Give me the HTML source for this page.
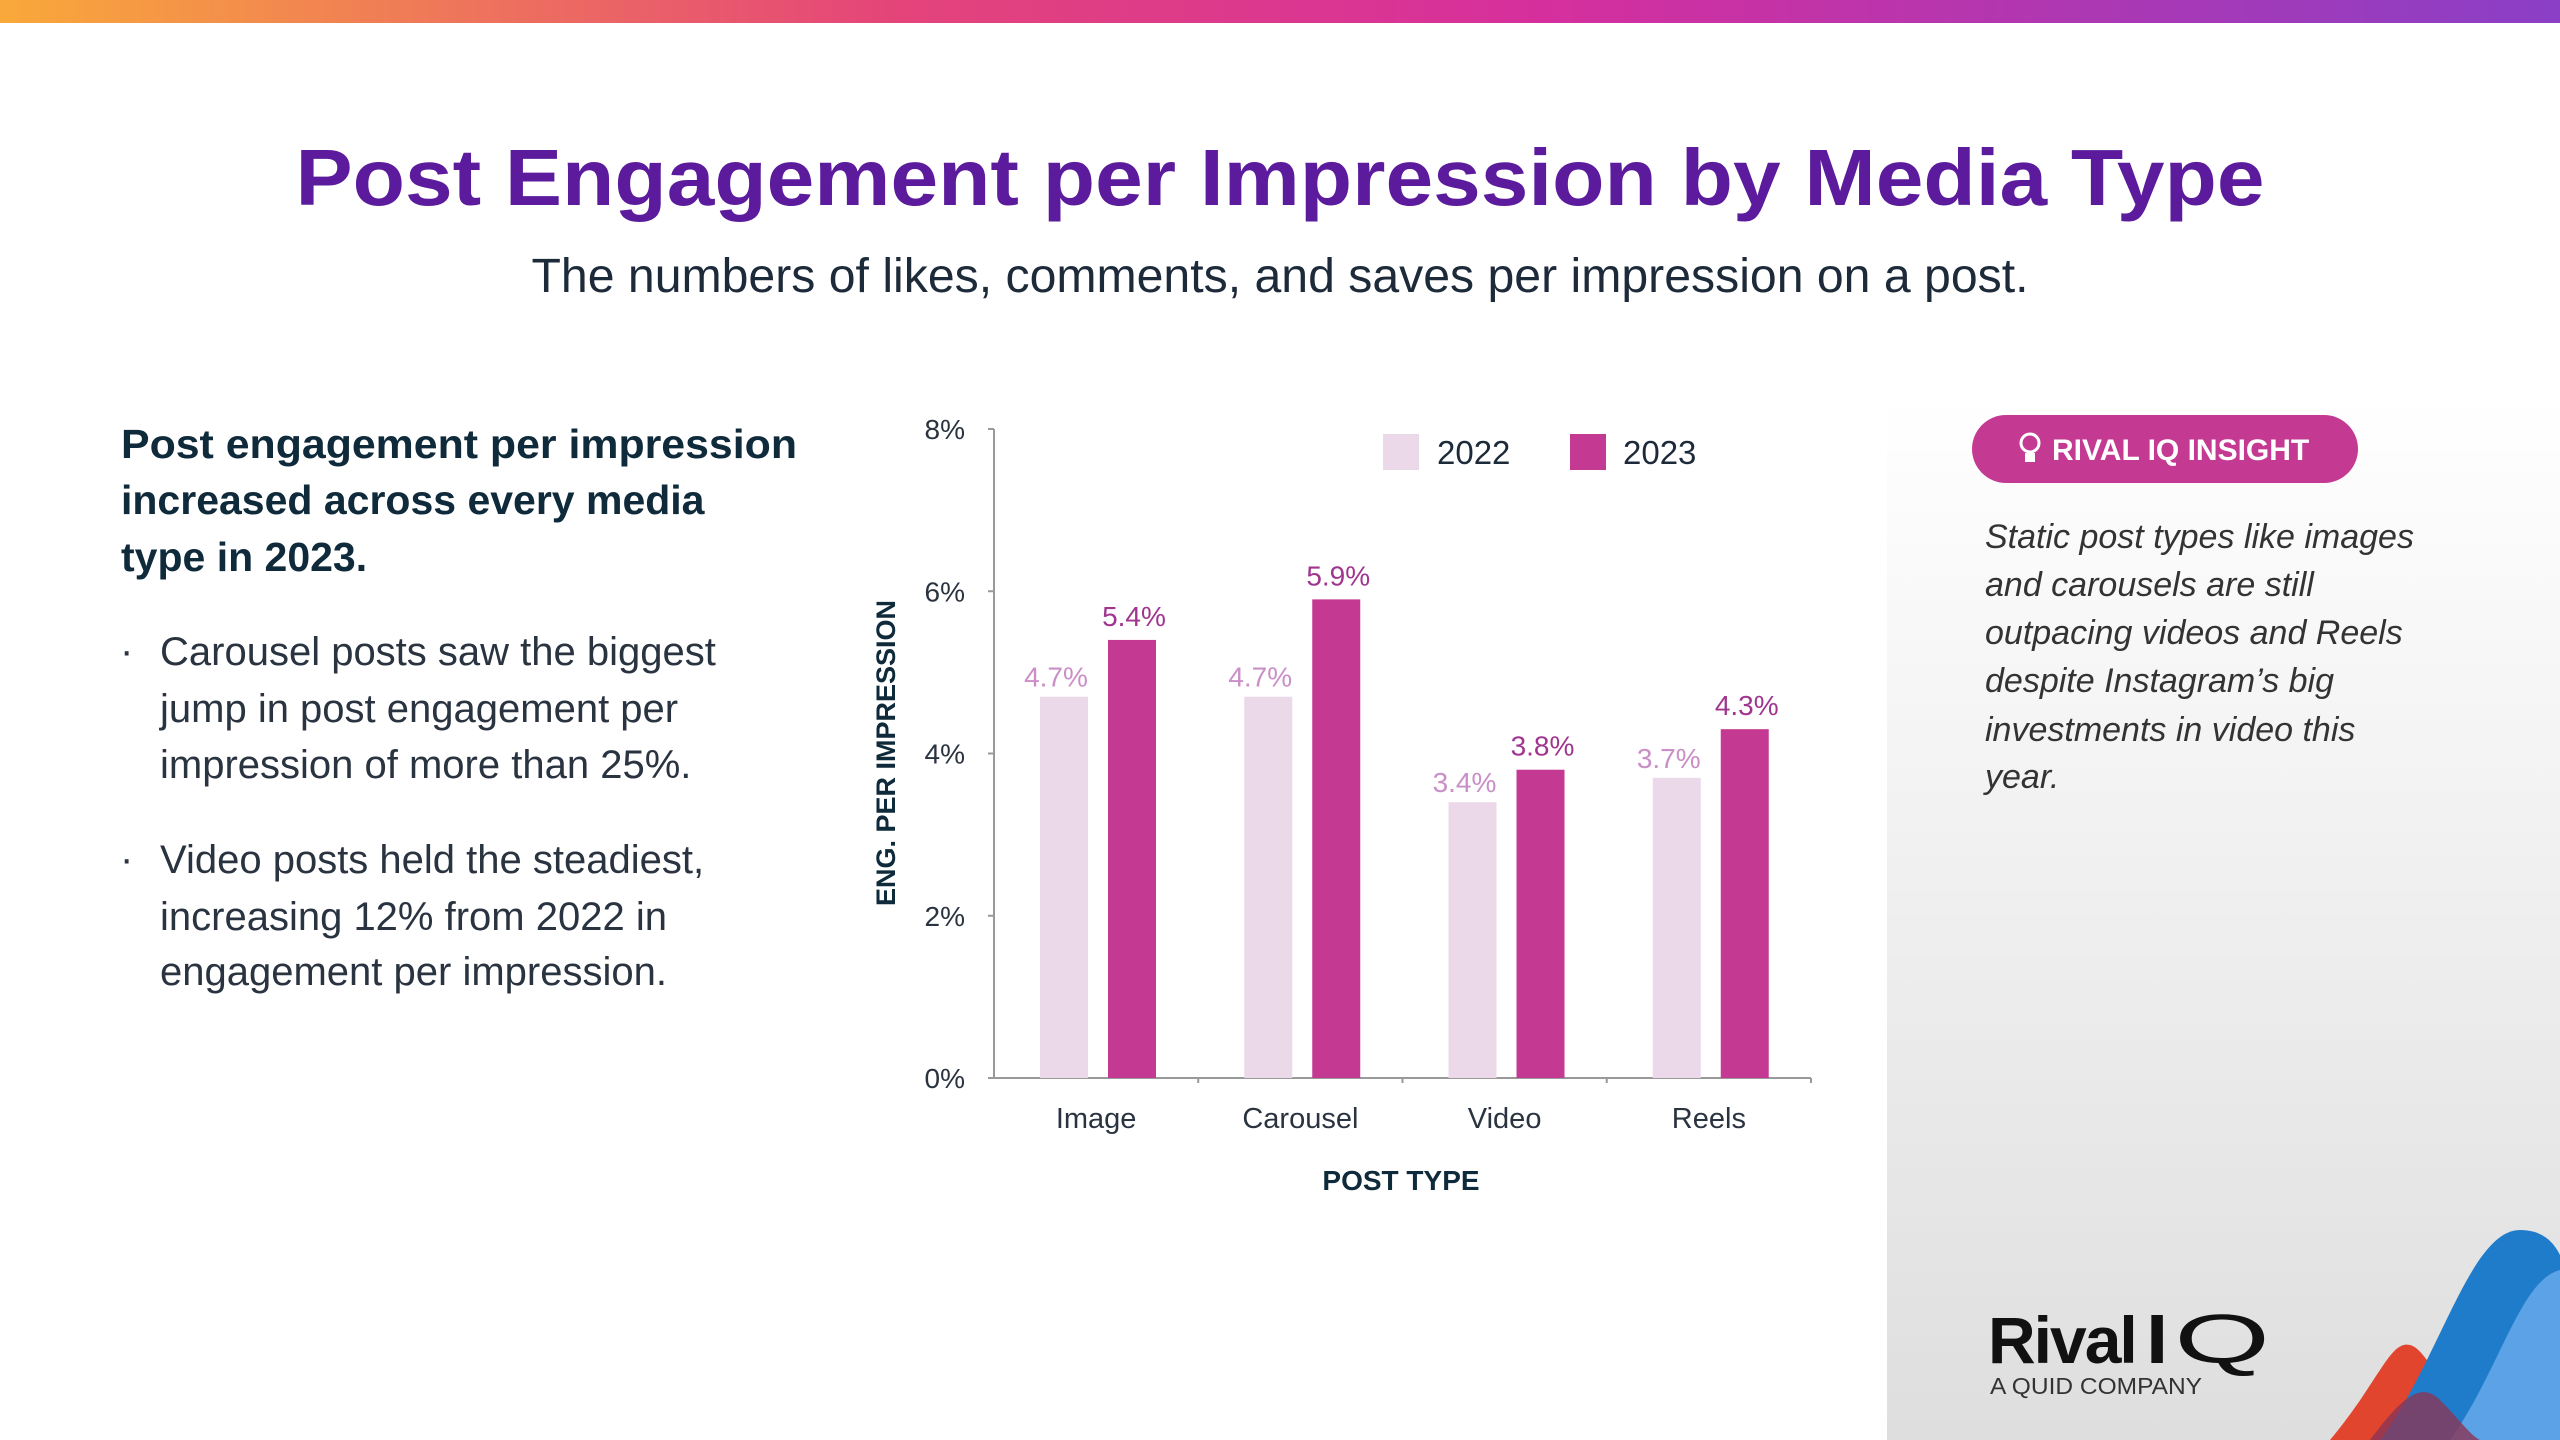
<!DOCTYPE html>
<html><head><meta charset="utf-8">
<style>
html,body{margin:0;padding:0;background:#fff;}
svg{display:block;font-family:"Liberation Sans",sans-serif;}
</style></head>
<body>
<svg id="page" width="2560" height="1440" viewBox="0 0 2560 1440" xmlns="http://www.w3.org/2000/svg">
<defs>
<linearGradient id="topg" x1="0" x2="1" y1="0" y2="0">
<stop offset="0" stop-color="#f9a93a"/><stop offset="0.35" stop-color="#e4447a"/><stop offset="0.6" stop-color="#d62f9d"/><stop offset="1" stop-color="#8a3fc6"/>
</linearGradient>
<linearGradient id="panelg" x1="0" x2="0" y1="0" y2="1">
<stop offset="0" stop-color="#ffffff"/><stop offset="1" stop-color="#dedede"/>
</linearGradient>
</defs>
<rect x="0" y="0" width="2560" height="23" fill="url(#topg)"/>
<rect x="1887" y="400" width="673" height="1040" fill="url(#panelg)"/>

<text x="1280" y="205" text-anchor="middle" font-size="80" font-weight="bold" fill="#5b1b9c" textLength="1969" lengthAdjust="spacingAndGlyphs">Post Engagement per Impression by Media Type</text>
<text x="1280" y="292" text-anchor="middle" font-size="48" fill="#1d2a3a" textLength="1497" lengthAdjust="spacingAndGlyphs">The numbers of likes, comments, and saves per impression on a post.</text>

<g fill="#0f2a3a">
<text x="121" y="458" font-size="41" font-weight="bold" textLength="676" lengthAdjust="spacingAndGlyphs">Post engagement per impression</text>
<text x="121" y="514" font-size="41" font-weight="bold">increased across every media</text>
<text x="121" y="571" font-size="41" font-weight="bold">type in 2023.</text>
</g>
<g fill="#2a3340" font-size="40">
<text x="120" y="664">·</text>
<text x="160" y="665">Carousel posts saw the biggest</text>
<text x="160" y="722">jump in post engagement per</text>
<text x="160" y="778">impression of more than 25%.</text>
<text x="120" y="872">·</text>
<text x="160" y="873">Video posts held the steadiest,</text>
<text x="160" y="930">increasing 12% from 2022 in</text>
<text x="160" y="985">engagement per impression.</text>
</g>

<g id="chart"></g>

<g>
<rect x="1972" y="415" width="386" height="68" rx="34" fill="#c43a93"/>
<circle cx="2030" cy="443" r="9" fill="none" stroke="#fff" stroke-width="3"/>
<rect x="2025" y="453" width="10" height="9" fill="#fff"/>
<text x="2052" y="460" font-size="30" font-weight="bold" fill="#fff">RIVAL IQ INSIGHT</text>
</g>
<g font-size="34" font-style="italic" fill="#333">
<text x="1985" y="548">Static post types like images</text>
<text x="1985" y="596">and carousels are still</text>
<text x="1985" y="644">outpacing videos and Reels</text>
<text x="1985" y="692">despite Instagram’s big</text>
<text x="1985" y="741">investments in video this</text>
<text x="1985" y="788">year.</text>
</g>

<g>
<text x="1988" y="1363" font-size="66" font-weight="bold" fill="#111" letter-spacing="-2">Rival</text>
<text x="2140" y="1363" font-size="70" fill="#111" textLength="130" lengthAdjust="spacingAndGlyphs">IQ</text>
<text x="1990" y="1394" font-size="23" fill="#333" textLength="212" lengthAdjust="spacingAndGlyphs">A QUID COMPANY</text>
</g>
<g>
<path d="M2330 1440 C2380 1380 2390 1340 2410 1345 C2430 1350 2450 1410 2480 1440 Z" fill="#e2452d"/>
<path d="M2380 1440 C2440 1360 2470 1230 2520 1230 C2545 1230 2555 1245 2560 1255 L2560 1440 Z" fill="#1f7ccb"/>
<path d="M2450 1440 C2500 1370 2520 1280 2560 1270 L2560 1440 Z" fill="#5ba2e6"/>
<path d="M2370 1440 C2400 1400 2420 1380 2440 1400 C2460 1420 2470 1435 2480 1440 Z" fill="#8a3456" opacity="0.8"/>
</g>
</svg>
<script>
const categories = ["Image","Carousel","Video","Reels"];
const series2022 = [4.7,4.7,3.4,3.7];
const series2023 = [5.4,5.9,3.8,4.3];
const yTicks = [0,2,4,6,8];
const yTickLabels = ["0%","2%","4%","6%","8%"];

const NS = "http://www.w3.org/2000/svg";
const chart = document.getElementById("chart");
const X0 = 994, X1 = 1811, Y0 = 1078, Y8 = 429;
const bandW = (X1 - X0) / categories.length;
function yScale(v){ return Y0 - (v / 8) * (Y0 - Y8); }
function xBand(i){ return X0 + i * bandW; }
function mk(tag, attrs, text){
  const e = document.createElementNS(NS, tag);
  for (const k in attrs) e.setAttribute(k, attrs[k]);
  if (text !== undefined) e.textContent = text;
  chart.appendChild(e);
  return e;
}
let ax = mk("line",{x1:X0,y1:Y8,x2:X0,y2:Y0,stroke:"#999","stroke-width":2});


let bx = mk("line",{x1:X0-5,y1:Y0,x2:X1,y2:Y0,stroke:"#999","stroke-width":2});


yTicks.forEach((t,i)=>{
  const y = yScale(t);
  const tk = mk("line",{x1:X0-6,y1:y,x2:X0,y2:y,stroke:"#999","stroke-width":2});
  
  
  const lb = mk("text",{x:965,y:y+10,"text-anchor":"end","font-size":28,fill:"#2a3340"}, yTickLabels[i]);
  
  
});
for (let i=1;i<=categories.length;i++){
  const x = xBand(i);
  const tk = mk("line",{x1:x,y1:Y0,x2:x,y2:Y0+5,stroke:"#999","stroke-width":2});
  
  
}
const barW = 48;
categories.forEach((c,i)=>{
  const bx0 = xBand(i) + 46;
  const bx1 = bx0 + barW + 20;
  const y22 = yScale(series2022[i]);
  const y23 = yScale(series2023[i]);
  const r1 = mk("rect",{x:bx0,y:y22,width:barW,height:Y0-y22,fill:"#ebd9ea"});
  
  
  const r2 = mk("rect",{x:bx1,y:y23,width:barW,height:Y0-y23,fill:"#c43a93"});
  
  
  const l1 = mk("text",{x:bx0+barW/2-8,y:y22-10,"text-anchor":"middle","font-size":28,fill:"#c98fc6"}, series2022[i].toFixed(1)+"%");
  
  
  const l2 = mk("text",{x:bx1+barW/2+2,y:y23-14,"text-anchor":"middle","font-size":28,fill:"#a0358f"}, series2023[i].toFixed(1)+"%");
  
  
  const xl = mk("text",{x:xBand(i)+bandW/2,y:1128,"text-anchor":"middle","font-size":29,fill:"#2a3340"}, c);
  
  
});
let yt = mk("text",{x:0,y:0,"text-anchor":"middle","font-size":27,"font-weight":"bold",fill:"#0f2a3a",transform:"translate(895,753) rotate(-90)"}, "ENG. PER IMPRESSION");


let xt = mk("text",{x:1401,y:1190,"text-anchor":"middle","font-size":28,"font-weight":"bold",fill:"#0f2a3a"}, "POST TYPE");


let lg1 = mk("rect",{x:1383,y:434,width:36,height:36,fill:"#ebd9ea"});


let lt1 = mk("text",{x:1437,y:464,"font-size":33,fill:"#1d2a3a"}, "2022");


let lg2 = mk("rect",{x:1570,y:434,width:36,height:36,fill:"#c43a93"});


let lt2 = mk("text",{x:1623,y:464,"font-size":33,fill:"#1d2a3a"}, "2023");


</script>
</body></html>
